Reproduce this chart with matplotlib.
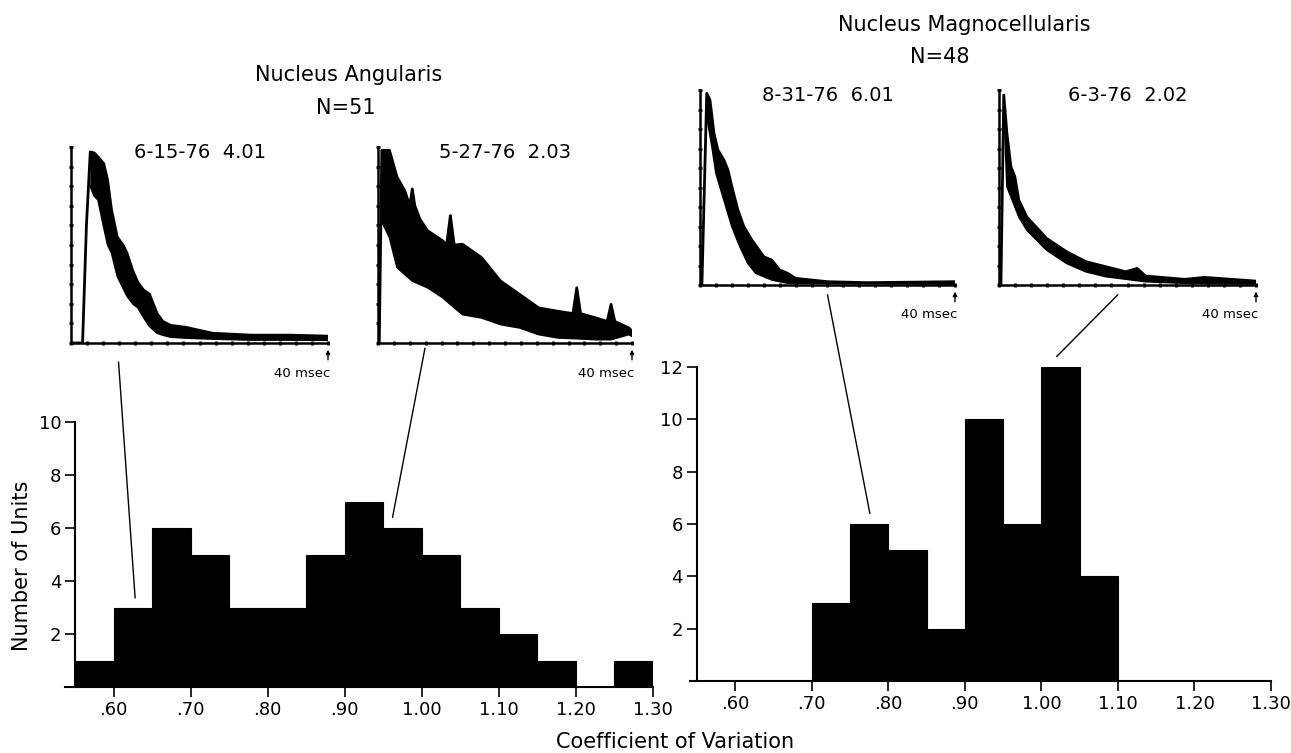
import numpy as np
import matplotlib
matplotlib.use("Agg")
import matplotlib.pyplot as plt
from matplotlib.patches import ConnectionPatch

# histogram data (bin start, count), bin width 0.05
angularis_bins = [0.55, 0.60, 0.65, 0.70, 0.75, 0.80, 0.85, 0.90, 0.95, 1.00, 1.05, 1.10, 1.15, 1.20, 1.25]
angularis_counts = [1, 3, 6, 5, 3, 3, 5, 7, 6, 5, 3, 2, 1, 0, 1]

magno_bins = [0.70, 0.75, 0.80, 0.85, 0.90, 0.95, 1.00, 1.05]
magno_counts = [3, 6, 5, 2, 10, 6, 12, 4]

xtick_vals = [0.60, 0.70, 0.80, 0.90, 1.00, 1.10, 1.20, 1.30]
xtick_labels = [".60", ".70", ".80", ".90", "1.00", "1.10", "1.20", "1.30"]

# inset interval histograms: upper / lower edge of the noisy trace (ms, fraction of full scale)
u1_ms = [0, 1.8, 2.4, 3.0, 3.6, 4.2, 5.1, 5.7, 6.3, 7.2, 8.1, 8.7, 9.6, 10.4, 11.3, 12.2, 13.4, 14.3, 15.5, 17.9, 22, 28, 34, 40]
u1_y = [0, 0, 0.6, 0.975, 0.97, 0.95, 0.915, 0.83, 0.68, 0.54, 0.50, 0.46, 0.37, 0.31, 0.27, 0.25, 0.15, 0.11, 0.09, 0.08, 0.05, 0.04, 0.04, 0.035]
l1_ms = [3.0, 3.6, 4.2, 5.1, 5.7, 6.3, 7.2, 8.1, 8.7, 9.6, 10.4, 11.3, 12.2, 13.4, 14.3, 15.5, 17.9, 22, 28, 34, 40]
l1_y = [0.80, 0.75, 0.73, 0.59, 0.50, 0.46, 0.34, 0.28, 0.24, 0.20, 0.18, 0.13, 0.085, 0.05, 0.04, 0.03, 0.025, 0.02, 0.015, 0.015, 0.014]

u2_ms = [0, 0.2, 0.6, 1.8, 3.0, 4.2, 5.0, 5.4, 5.8, 6.6, 7.8, 10.2, 10.8, 11.4, 12.0, 13.3, 16.3, 19.3, 22.3, 25.3, 28.3, 30.7, 31.3, 31.9, 34.3, 36.1, 36.7, 37.3, 39.5, 40]
u2_y = [0, 0, 0.983, 0.983, 0.846, 0.778, 0.70, 0.786, 0.70, 0.632, 0.573, 0.521, 0.50, 0.650, 0.50, 0.504, 0.436, 0.316, 0.248, 0.179, 0.162, 0.15, 0.282, 0.15, 0.128, 0.11, 0.197, 0.11, 0.077, 0.06]
l2_ms = [0.6, 1.8, 3.0, 4.2, 5.4, 6.6, 7.8, 10.2, 11.4, 13.3, 16.3, 19.3, 22.3, 25.3, 28.3, 31.3, 34.3, 36.7, 39.5, 40]
l2_y = [0.62, 0.538, 0.385, 0.350, 0.316, 0.299, 0.282, 0.231, 0.197, 0.145, 0.128, 0.094, 0.077, 0.043, 0.026, 0.022, 0.017, 0.017, 0.043, 0.034]

u3_ms = [0, 0.3, 1.06, 1.56, 2.19, 2.81, 3.75, 4.38, 5.0, 5.94, 6.88, 8.13, 10.0, 11.25, 12.5, 13.75, 15, 20, 26.25, 40]
u3_y = [0, 0, 0.983, 0.949, 0.778, 0.692, 0.641, 0.590, 0.504, 0.385, 0.299, 0.231, 0.145, 0.128, 0.077, 0.060, 0.034, 0.017, 0.012, 0.017]
l3_ms = [1.06, 1.25, 1.875, 2.5, 3.75, 5.0, 6.25, 7.5, 8.75, 11.25, 13.75, 40]
l3_y = [0.90, 0.829, 0.709, 0.573, 0.436, 0.299, 0.197, 0.111, 0.060, 0.026, 0.009, 0.005]

u4_ms = [0, 0.3, 0.74, 1.23, 1.85, 2.46, 3.08, 4.31, 7.4, 10.5, 13.5, 16.6, 19.7, 21.5, 22.8, 28.9, 32, 40]
u4_y = [0, 0, 0.974, 0.778, 0.607, 0.556, 0.436, 0.350, 0.239, 0.171, 0.120, 0.094, 0.068, 0.085, 0.046, 0.029, 0.039, 0.02]
l4_ms = [0.74, 1.23, 1.85, 3.08, 4.31, 7.4, 10.5, 13.5, 16.6, 22.8, 28.9, 40]
l4_y = [0.95, 0.504, 0.453, 0.350, 0.282, 0.179, 0.111, 0.068, 0.043, 0.017, 0.009, 0.005]

W, H = 1291, 753
fig = plt.figure(figsize=(W / 100, H / 100), dpi=100)
plt.rcParams['font.family'] = ['DejaVu Sans']


def px_axes(x0, y0, x1, y1):
    return fig.add_axes([x0 / W, 1 - y1 / H, (x1 - x0) / W, (y1 - y0) / H])


def hist_axes(ax, bins, counts, ymax, x0data):
    ax.bar(bins, counts, width=0.05, align='edge', color='black', edgecolor='black', linewidth=0.8)
    ax.set_xlim(x0data, 1.30)
    ax.set_ylim(0, ymax)
    for s in ['top', 'right']:
        ax.spines[s].set_visible(False)
    ax.spines['left'].set_position(('data', 0.55))
    ax.spines['left'].set_bounds(0, ymax)
    ax.spines['left'].set_linewidth(1.5)
    ax.spines['bottom'].set_linewidth(1.5)
    ax.set_xticks(xtick_vals)
    ax.set_xticklabels(xtick_labels)
    ax.set_yticks(list(range(2, ymax + 1, 2)))
    ax.tick_params(axis='both', labelsize=13, length=7, width=1.2, direction='out', pad=3)
    ax.patch.set_alpha(0)


ax_l = px_axes(65, 422, 653, 687)
hist_axes(ax_l, angularis_bins, angularis_counts, 10, 0.537)
ax_r = px_axes(690, 367, 1271, 681)
hist_axes(ax_r, magno_bins, magno_counts, 12, 0.541)


def inset(x0, y0, x1, y1, ums, uy, lms, ly, label):
    ax = px_axes(x0, y0, x1, y1)
    # band between the two edges, starting where the lower edge starts
    band = [(m, v) for m, v in zip(ums, uy) if m >= lms[0]]
    poly_x = [p[0] for p in band] + list(lms)[::-1]
    poly_y = [p[1] for p in band] + list(ly)[::-1]
    ax.fill(poly_x, poly_y, color='black', linewidth=0)
    ax.plot(ums, uy, color='black', lw=2.0)
    ax.plot(lms, ly, color='black', lw=1.2)
    ax.set_xlim(0, 40)
    ax.set_ylim(0, 1.0)
    for s in ['top', 'right']:
        ax.spines[s].set_visible(False)
    ax.spines['left'].set_linewidth(1.8)
    ax.spines['bottom'].set_linewidth(1.8)
    ax.set_xticks([i * 2.5 for i in range(17)])
    ax.set_yticks([i / 10 for i in range(11)])
    ax.tick_params(axis='both', length=3, width=2, direction='inout', labelbottom=False, labelleft=False)
    ax.annotate('', xy=(40, -0.02), xytext=(40, -0.10), xycoords='data',
                arrowprops=dict(arrowstyle='-|>', lw=1.0, color='black', mutation_scale=6),
                annotation_clip=False)
    ax.text(40.3, -0.12, '40 msec', ha='right', va='top', fontsize=9.5)
    ax.text(0.5, 0.97, label, transform=ax.transAxes, ha='center', va='center', fontsize=14)
    ax.patch.set_alpha(0)
    return ax


in1 = inset(71, 147, 328, 343, u1_ms, u1_y, l1_ms, l1_y, '6-15-76  4.01')
in2 = inset(378, 147, 632, 343, u2_ms, u2_y, l2_ms, l2_y, '5-27-76  2.03')
in3 = inset(700, 90, 955, 285, u3_ms, u3_y, l3_ms, l3_y, '8-31-76  6.01')
in4 = inset(999, 90, 1256, 285, u4_ms, u4_y, l4_ms, l4_y, '6-3-76  2.02')

# leader lines from inset to the bin the unit belongs to
links = [
    (in1, (7.4, -0.097), ax_l, (0.628, 3.36)),
    (in2, (7.4, -0.026), ax_l, (0.962, 6.4)),
    (in3, (20.0, -0.05), ax_r, (0.776, 6.4)),
    (in4, (18.5, -0.05), ax_r, (1.02, 12.4)),
]
for axa, pa, axb, pb in links:
    cp = ConnectionPatch(xyA=pa, coordsA=axa.transData, xyB=pb, coordsB=axb.transData,
                         color='black', lw=1.0)
    fig.add_artist(cp)

fig.text(349 / W, 1 - 75 / H, 'Nucleus Angularis', ha='center', va='center', fontsize=15)
fig.text(346 / W, 1 - 108 / H, 'N=51', ha='center', va='center', fontsize=15)
fig.text(964 / W, 1 - 25 / H, 'Nucleus Magnocellularis', ha='center', va='center', fontsize=15)
fig.text(940 / W, 1 - 57 / H, 'N=48', ha='center', va='center', fontsize=15)
fig.text(675 / W, 1 - 742 / H, 'Coefficient of Variation', ha='center', va='center', fontsize=15)
fig.text(22 / W, 1 - 566 / H, 'Number of Units', ha='center', va='center', rotation=90, fontsize=15)

fig.savefig('out.png', dpi=100)
